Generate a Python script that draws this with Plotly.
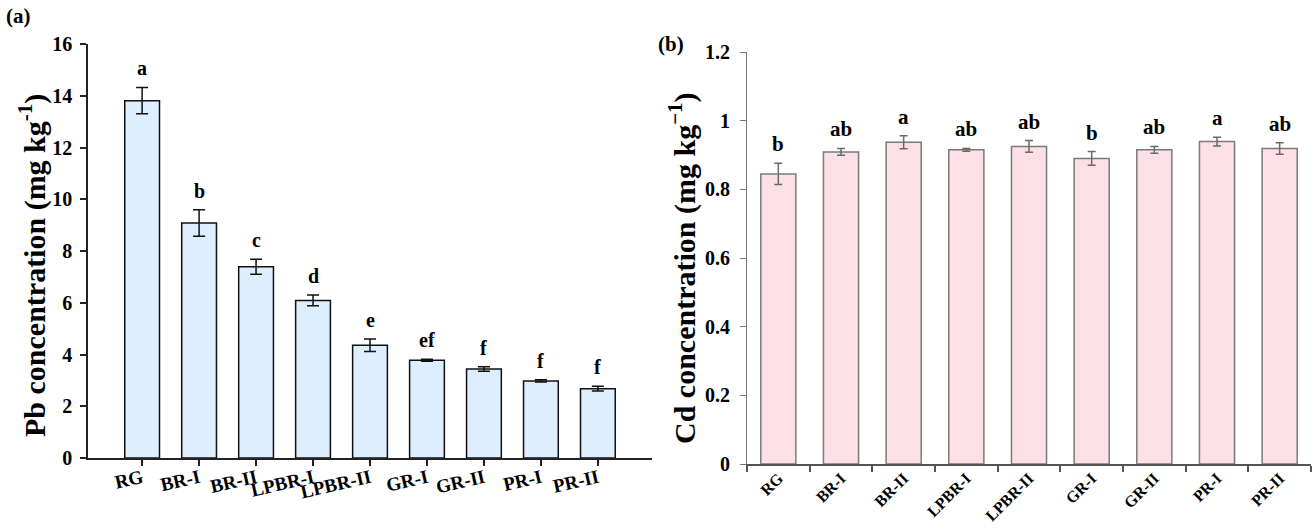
import plotly.graph_objects as go

categories = ["RG", "BR-I", "BR-II", "LPBR-I", "LPBR-II", "GR-I", "GR-II", "PR-I", "PR-II"]
pb_mean = [13.81, 9.08, 7.39, 6.09, 4.36, 3.78, 3.44, 2.98, 2.68]
pb_err = [0.51, 0.51, 0.29, 0.21, 0.24, 0.04, 0.09, 0.04, 0.09]
pb_letters = ["a", "b", "c", "d", "e", "ef", "f", "f", "f"]
cd_mean = [0.845, 0.909, 0.937, 0.915, 0.925, 0.890, 0.915, 0.939, 0.919]
cd_err = [0.031, 0.010, 0.019, 0.004, 0.017, 0.020, 0.010, 0.013, 0.017]
cd_letters = ["b", "ab", "a", "ab", "ab", "b", "ab", "a", "ab"]

FONT = "Liberation Serif, Times New Roman, serif"
W, H = 1315, 529

fig = go.Figure()
fig.add_trace(go.Bar(
    x=categories, y=pb_mean, width=0.61,
    marker=dict(color="#ddeeff", line=dict(color="#111111", width=1.5)),
    error_y=dict(type="data", array=pb_err, color="#111111", thickness=1.5, width=6),
    xaxis="x", yaxis="y", showlegend=False))
fig.add_trace(go.Bar(
    x=categories, y=cd_mean, width=0.56,
    marker=dict(color="#fde0e6", line=dict(color="#7a7a7a", width=1.5)),
    error_y=dict(type="data", array=cd_err, color="#6a6a6a", thickness=1.5, width=4),
    xaxis="x2", yaxis="y2", showlegend=False))

ann = []
for c, v, e, t in zip(categories, pb_mean, pb_err, pb_letters):
    ann.append(dict(x=c, y=v + e, xref="x", yref="y", text=f"<b>{t}</b>", showarrow=False,
                    yanchor="bottom", yshift=6, font=dict(family=FONT, size=20, color="black")))
for c, v, e, t in zip(categories, cd_mean, cd_err, cd_letters):
    ann.append(dict(x=c, y=v + e, xref="x2", yref="y2", text=f"<b>{t}</b>", showarrow=False,
                    yanchor="bottom", yshift=5, font=dict(family=FONT, size=21, color="black")))
ann.append(dict(x=4 / W, y=1 - 2 / H, xref="paper", yref="paper", xanchor="left", yanchor="top",
                text="<b>(a)</b>", showarrow=False, font=dict(family=FONT, size=21, color="black")))
ann.append(dict(x=656 / W, y=1 - 30 / H, xref="paper", yref="paper", xanchor="left", yanchor="top",
                text="<b>(b)</b>", showarrow=False, font=dict(family=FONT, size=21, color="black")))
ann.append(dict(x=32 / W, y=1 - 266 / H, xref="paper", yref="paper", xanchor="center", yanchor="middle",
                textangle=-90, text="<b>Pb concentration (mg kg<sup>-1</sup>)</b>", showarrow=False,
                font=dict(family=FONT, size=30, color="black")))
ann.append(dict(x=682 / W, y=1 - 268 / H, xref="paper", yref="paper", xanchor="center", yanchor="middle",
                textangle=-90, text="<b>Cd concentration (mg kg<sup>−1</sup>)</b>", showarrow=False,
                font=dict(family=FONT, size=30, color="black")))

fig.update_layout(
    width=W, height=H, margin=dict(l=0, r=0, t=0, b=0, autoexpand=False),
    paper_bgcolor="white", plot_bgcolor="white",
    font=dict(family=FONT, color="black"),
    annotations=ann,
    xaxis=dict(domain=[88 / W, 652 / W], range=[-0.95, 8.95], anchor="y", automargin=False,
               showline=True, linecolor="#222", linewidth=1.5, ticks="outside", ticklen=6,
               tickcolor="#222", tickwidth=1.5, tickangle=-13, showgrid=False,
               ticklabelstandoff=-6,
               tickfont=dict(family=FONT, size=19, color="black")),
    yaxis=dict(domain=[1 - 458 / H, 1 - 44 / H], range=[0, 16], dtick=2, anchor="x", automargin=False,
               showline=True, linecolor="#222", linewidth=1.5, ticks="outside", ticklen=6,
               tickcolor="#222", tickwidth=1.5, showgrid=False, zeroline=False,
               ticklabelstandoff=4,
               tickfont=dict(family=FONT, size=20, color="black"), tickprefix="<b>", ticksuffix="</b>"),
    xaxis2=dict(domain=[747 / W, 1311 / W], range=[-0.5, 8.5], anchor="y2", automargin=False,
                showline=True, linecolor="#555", linewidth=1.5, ticks="outside", ticklen=6,
                tickcolor="#555", tickwidth=1.5, tickson="boundaries", tickangle=-45, showgrid=False,
                ticklabelstandoff=-3,
                tickfont=dict(family=FONT, size=16, color="black")),
    yaxis2=dict(domain=[1 - 464 / H, 1 - 52 / H], range=[0, 1.2], dtick=0.2, anchor="x2", automargin=False,
                showline=True, linecolor="#777", linewidth=1.2, ticks="outside", ticklen=6,
                tickcolor="#777", tickwidth=1.2, showgrid=False, zeroline=False,
                tickformat="~g", ticklabelstandoff=6,
                tickfont=dict(family=FONT, size=20, color="black"), tickprefix="<b>", ticksuffix="</b>"),
)
fig.update_xaxes(tickprefix="<b>", ticksuffix="</b>")

fig.write_html("out.html", config={"displayModeBar": False},
               post_script="document.body.style.margin='0';document.body.style.overflow='hidden';")
